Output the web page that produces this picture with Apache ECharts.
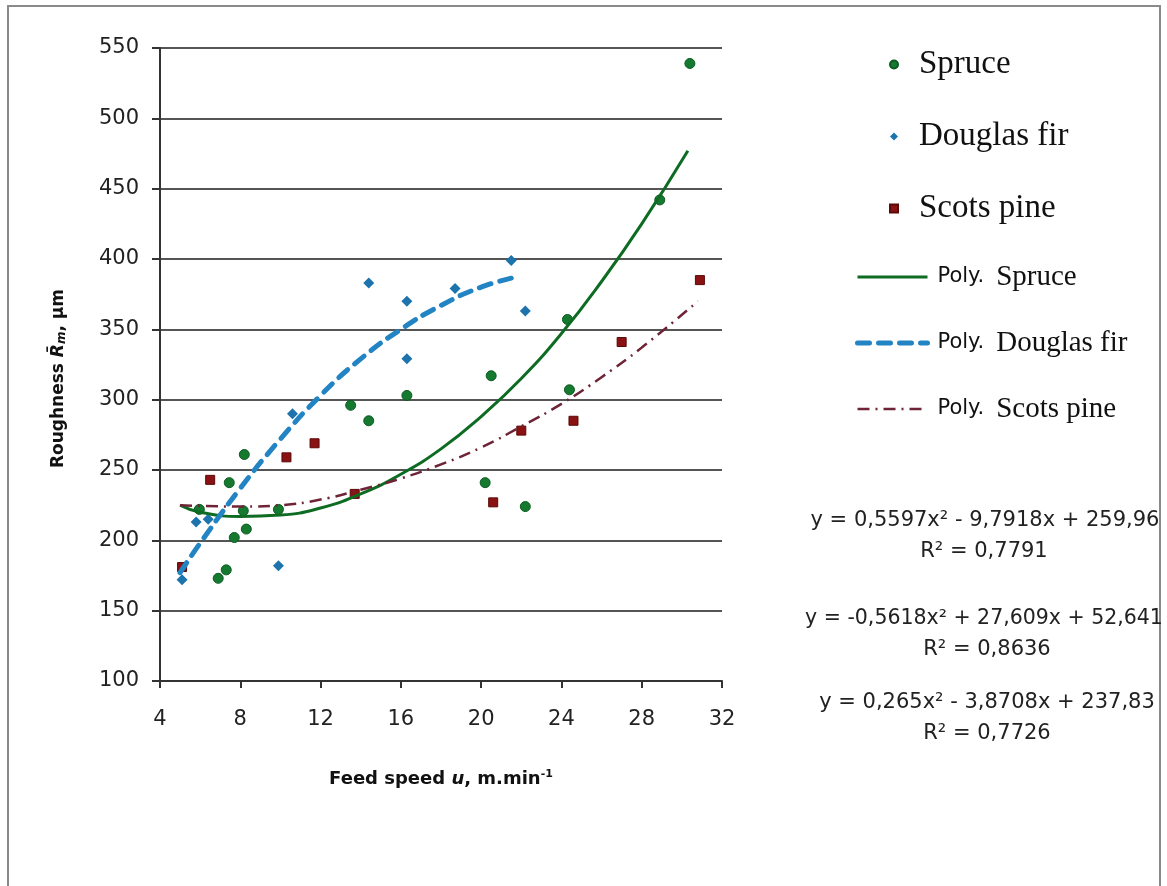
<!DOCTYPE html>
<html><head><meta charset="utf-8">
<script src="https://cdn.jsdelivr.net/npm/echarts@6/dist/echarts.min.js"></script>
<style>html,body{margin:0;padding:0;background:#fff}#c{width:1167px;height:886px}</style>
</head><body><div id="c"></div>
<script>
// ---- data ----
const spruceX = [5.96, 6.9, 7.3, 7.7, 7.45, 8.2, 8.15, 8.3, 9.9, 13.5, 14.4, 16.3, 20.2, 20.5, 22.2, 24.3, 24.4, 28.9, 30.4];
const spruceY = [222, 173, 179, 202, 241, 261, 221, 208, 222, 296, 285, 303, 241, 317, 224, 357, 307, 442, 539];
const douglasX = [5.1, 5.8, 6.4, 9.9, 10.6, 14.4, 16.3, 16.3, 18.7, 21.5, 22.2];
const douglasY = [172, 213, 215, 182, 290, 383, 370, 329, 379, 399, 363];
const scotsX = [5.1, 6.5, 10.3, 11.7, 13.7, 20.6, 22.0, 24.6, 27.0, 30.9];
const scotsY = [181, 243, 259, 269, 233, 227, 278, 285, 341, 385];
// trend lines
const polySpruceX = [5, 6, 8, 10, 12, 14, 16, 18, 20, 22, 24, 26, 28, 30.3];
const polySpruceY = [225, 220, 217, 218, 223, 233, 247, 265, 288, 315, 347, 384, 425, 477];
const polyDouglasX = [5, 6, 8, 10, 12, 14, 16, 18, 20, 21.7];
const polyDouglasY = [177, 198, 237, 272, 303, 329, 350, 367, 380, 387];
const polyScotsX = [5, 8, 10, 12, 14, 16, 18, 20, 22, 24, 26, 28, 30.8];
const polyScotsY = [225, 224, 225, 229, 236, 244, 254, 266, 281, 297, 316, 337, 370];
const xTicks = [4, 8, 12, 16, 20, 24, 28, 32];
const yTicks = [100, 150, 200, 250, 300, 350, 400, 450, 500, 550];
const equations = [
  ['y = 0,5597x² - 9,7918x + 259,96', 'R² = 0,7791'],
  ['y = -0,5618x² + 27,609x + 52,641', 'R² = 0,8636'],
  ['y = 0,265x² - 3,8708x + 237,83', 'R² = 0,7726']
];

const zip = (a, b) => a.map((v, i) => [v, b[i]]);
const chart = echarts.init(document.getElementById('c'), null, {renderer: 'canvas'});
const sans = 'DejaVu Sans';
const eqPos = [[985, 521, 984, 552], [984, 619, 987, 650], [987, 703, 987, 734]];
const graphics = [{
  type: 'rect', shape: {x: 8, y: 6, width: 1152, height: 900},
  style: {fill: 'none', stroke: '#8a8a8a', lineWidth: 2}, silent: true
}];
equations.forEach((e, i) => {
  const c = eqPos[i];
  const fs = i === 1 ? 20.5 : 21;
  graphics.push({type: 'text', x: c[0], y: c[1], style: {text: e[0], font: fs + 'px "' + sans + '"', fill: '#222', align: 'center', verticalAlign: 'middle'}});
  graphics.push({type: 'text', x: c[2], y: c[3], style: {text: e[1], font: '21px "' + sans + '"', fill: '#222', align: 'center', verticalAlign: 'middle'}});
});

chart.setOption({
  animation: false,
  backgroundColor: '#fff',
  grid: {left: 160, right: 445, top: 48, bottom: 205},
  xAxis: {
    type: 'value', min: 4, max: 32, interval: 4,
    name: '{b|Feed speed }{bi|u}{b|, m.min}{sup|-1}',
    nameLocation: 'middle', nameGap: 88,
    nameTextStyle: {rich: {
      b: {fontFamily: sans, fontWeight: 'bold', fontSize: 18, color: '#111'},
      bi: {fontFamily: sans, fontWeight: 'bold', fontStyle: 'italic', fontSize: 18, color: '#111'},
      sup: {fontFamily: sans, fontWeight: 'bold', fontSize: 11, color: '#111', verticalAlign: 'top', padding: [0, 0, 9, 0]}
    }},
    axisLine: {show: true, onZero: false, lineStyle: {color: '#333', width: 2}},
    axisTick: {show: true, length: 7, lineStyle: {color: '#333', width: 2}},
    axisLabel: {fontFamily: sans, fontSize: 21, color: '#222', margin: 28,
      formatter: v => xTicks.includes(v) ? String(v) : ''},
    splitLine: {show: false}
  },
  yAxis: {
    type: 'value', min: 100, max: 550, interval: 50,
    name: '{b|Roughness }{bi|R̄}{sub|m}{b|, µm}',
    nameLocation: 'middle', nameGap: 92, nameRotate: 90,
    nameTextStyle: {padding: [0, 28, 0, 0], rich: {
      b: {fontFamily: sans, fontWeight: 'bold', fontSize: 17, color: '#111'},
      bi: {fontFamily: sans, fontWeight: 'bold', fontStyle: 'italic', fontSize: 17, color: '#111'},
      sub: {fontFamily: sans, fontWeight: 'bold', fontStyle: 'italic', fontSize: 12, color: '#111', verticalAlign: 'bottom', padding: [6, 0, 0, 0]}
    }},
    axisLine: {show: true, lineStyle: {color: '#333', width: 2}},
    axisTick: {show: true, length: 8, lineStyle: {color: '#333', width: 2}},
    axisLabel: {fontFamily: sans, fontSize: 21, color: '#222', margin: 21,
      formatter: v => yTicks.includes(v) ? String(v) : ''},
    splitLine: {show: true, lineStyle: {color: '#555', width: 2}}
  },
  legend: [{
    orient: 'vertical', left: 884, top: 43, itemWidth: 8, itemHeight: 8, itemGap: 39,
    data: [{name: 'Spruce', icon: 'circle'}, {name: 'Douglas fir', icon: 'diamond'}, {name: 'Scots pine', icon: 'rect'}],
    textStyle: {fontFamily: 'Liberation Serif', fontSize: 33, color: '#111', lineHeight: 32, padding: [0, 0, 0, 16]}
  }, {
    orient: 'vertical', left: 850, top: 257, itemWidth: 70, itemHeight: 14, itemGap: 36,
    itemStyle: {opacity: 0},
    data: [
      {name: 'Poly. Spruce', lineStyle: {width: 3}},
      {name: 'Poly. Douglas fir', lineStyle: {width: 5}},
      {name: 'Poly. Scots pine', lineStyle: {width: 2.5}}
    ],
    formatter: n => '{a|Poly.}{b|' + n.replace('Poly. ', '') + '}',
    textStyle: {lineHeight: 30, padding: [0, 0, 0, 5], rich: {
      a: {fontFamily: sans, fontSize: 21, color: '#111', padding: [0, 12, 0, 0]},
      b: {fontFamily: 'Liberation Serif', fontSize: 29, color: '#111'}
    }}
  }],
  graphic: graphics,
  series: [
    {name: 'Spruce', type: 'scatter', data: zip(spruceX, spruceY), symbol: 'circle', symbolSize: 10,
      itemStyle: {color: '#157a30', borderColor: '#0b5a22', borderWidth: 1, opacity: 1}, z: 3},
    {name: 'Douglas fir', type: 'scatter', data: zip(douglasX, douglasY), symbol: 'diamond', symbolSize: 11,
      itemStyle: {color: '#1d74ad', opacity: 1}, z: 3},
    {name: 'Scots pine', type: 'scatter', data: zip(scotsX, scotsY), symbol: 'rect', symbolSize: 9,
      itemStyle: {color: '#8a1212', borderColor: '#5a0a0a', borderWidth: 1, opacity: 1}, z: 3},
    {name: 'Poly. Spruce', type: 'line', data: zip(polySpruceX, polySpruceY), smooth: true, symbol: 'none',
      lineStyle: {color: '#0d6b22', width: 3, type: 'solid'}, itemStyle: {color: '#0d6b22'}, z: 4},
    {name: 'Poly. Douglas fir', type: 'line', data: zip(polyDouglasX, polyDouglasY), smooth: true, symbol: 'none',
      lineStyle: {color: '#2384c4', width: 5, type: [12, 9], cap: 'round'}, itemStyle: {color: '#2384c4'}, z: 4},
    {name: 'Poly. Scots pine', type: 'line', data: zip(polyScotsX, polyScotsY), smooth: true, symbol: 'none',
      lineStyle: {color: '#6e2436', width: 2.5, type: [12, 6, 2, 6]}, itemStyle: {color: '#6e2436'}, z: 4}
  ]
});
</script></body></html>
